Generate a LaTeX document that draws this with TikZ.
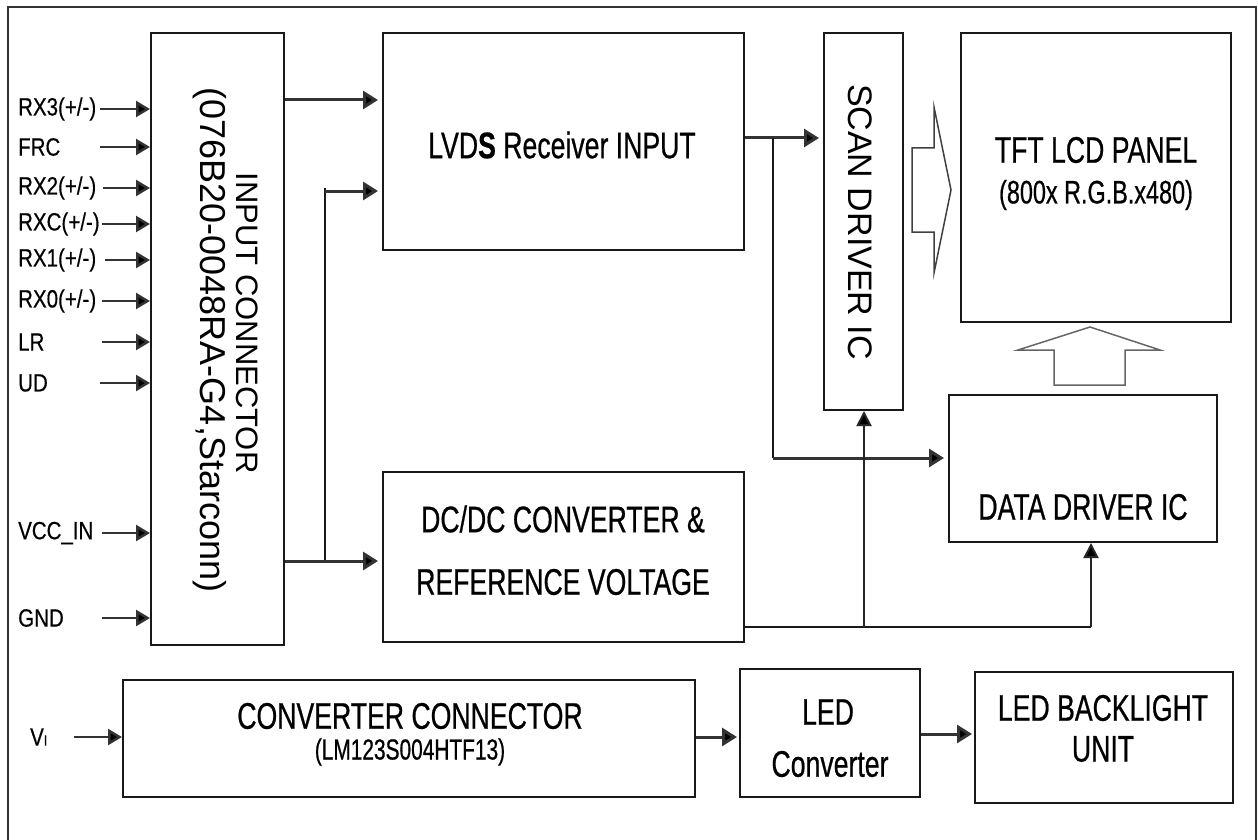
\documentclass[tikz,border=0pt]{standalone}
\usepackage{fontspec}
\setmainfont{Liberation Sans}
\newfontfamily\nf{Liberation Sans}[FakeStretch=0.72,FakeBold=0.6]
\newfontfamily\lf{Liberation Sans}[FakeStretch=0.82,FakeBold=0.4]
\usetikzlibrary{arrows.meta}
\begin{document}
\begin{tikzpicture}[x=1pt,y=-1pt,
  box/.style={draw=black!90,line width=2pt,inner sep=0pt},
  arr/.style={line width=3pt,draw=black!80,-{Triangle[length=15pt,width=18pt,fill=black]}},
  arrs/.style={line width=2.5pt,draw=black!80,-{Triangle[length=14pt,width=16pt,fill=black]}},
  arrt/.style={line width=2pt,draw=black!85,-{Triangle[length=15pt,width=15pt,fill=black]}},
  wire/.style={line width=2pt,draw=black!90},
  lab/.style={anchor=west,inner sep=0pt,font=\lf\fontsize{25}{28}\selectfont},
  big/.style={inner sep=0pt,font=\nf\fontsize{37}{44}\selectfont},
  mid/.style={inner sep=0pt,font=\nf\fontsize{32.5}{38}\selectfont},
  sml/.style={inner sep=0pt,font=\nf\fontsize{29}{34}\selectfont},
  hollow/.style={line width=1.5pt,draw=black!75,line join=miter}]
\useasboundingbox (0,0) rectangle (1258,840);
% outer frame
\draw[line width=2.5pt,black!80] (8,840) -- (8,7) -- (1256,7) -- (1256,840);

% boxes
\node[box,minimum width=133pt,minimum height=612pt] (ic) at (217.5,339) {};
\node[box,minimum width=361pt,minimum height=217pt] (lvds) at (563.5,141.5) {};
\node[box,minimum width=79pt,minimum height=377pt] (scan) at (863.5,221.5) {};
\node[box,minimum width=270pt,minimum height=289pt] (tft) at (1096,177.5) {};
\node[box,minimum width=268pt,minimum height=147pt] (dd) at (1083,468.5) {};
\node[box,minimum width=361pt,minimum height=170pt] (dcdc) at (563.5,557) {};
\node[box,minimum width=572pt,minimum height=117pt] (cc) at (409,738.5) {};
\node[box,minimum width=180pt,minimum height=128pt] (ledc) at (830,733) {};
\node[box,minimum width=258pt,minimum height=131pt] (bl) at (1104,737.5) {};

% texts
\node[inner sep=0pt,rotate=-90,font=\fontsize{31}{38}\selectfont] (icT1) at (247,323) {INPUT CONNECTOR};
\node[inner sep=0pt,rotate=-90,font=\fontsize{36}{42}\selectfont] (icT2) at (210,340) {(076B20-0048RA-G4,Starconn)};
\node[inner sep=0pt,rotate=-90,font=\fontsize{34}{40}\selectfont] (scanT) at (860,222) {SCAN DRIVER IC};
\node[big] (lvdsT) at (562,145) {LVD\textbf{S} Receiver INPUT};
\node[big] (tftT1) at (1096,150) {TFT LCD PANEL};
\node[mid] (tftT2) at (1096,195) {(800x R.G.B.x480)};
\node[big] (dcT1) at (563,519) {DC/DC CONVERTER \&};
\node[big] (dcT2) at (563,582) {REFERENCE VOLTAGE};
\node[big] (ddT) at (1083,507) {DATA DRIVER IC};
\node[big] (ccT1) at (410,716) {CONVERTER CONNECTOR};
\node[sml] (ccT2) at (410,752) {(LM123S004HTF13)};
\node[big] (ledcT1) at (828,712) {LED};
\node[big] (ledcT2) at (830,764) {Converter};
\node[big] (blT1) at (1103,708) {LED BACKLIGHT};
\node[big] (blT2) at (1103,749) {UNIT};

% input labels and arrows
\node[lab] (rx3) at (18,109) {RX3(+/-)};
\node[lab] (frc) at (18,147) {FRC};
\node[lab] (rx2) at (18,188) {RX2(+/-)};
\node[lab] (rxc) at (18,224) {RXC(+/-)};
\node[lab] (rx1) at (18,260) {RX1(+/-)};
\node[lab] (rx0) at (18,301) {RX0(+/-)};
\node[lab] (lr) at (18,342) {LR};
\node[lab] (ud) at (18,383) {UD};
\node[lab] (vcc) at (18,533) {VCC\_IN};
\node[lab] (gnd) at (18,618) {GND};
\node[lab] (vi) at (30,737) {V{\fontsize{15}{18}\selectfont I}};
\coordinate (s1) at (100,109);
\coordinate (s2) at (100,147);
\coordinate (s3) at (103,188);
\coordinate (s4) at (102,224);
\coordinate (s5) at (105,260);
\coordinate (s6) at (102,301);
\coordinate (s7) at (102,342);
\coordinate (s8) at (100,383);
\coordinate (s9) at (102,533);
\coordinate (s10) at (102,618);
\coordinate (s11) at (74,737);
\foreach \c in {s1,s2,s3,s4,s5,s6,s7,s8,s9,s10}
  \draw[arrs] (\c) -- (\c -| ic.west);
\draw[arrs] (s11) -- (s11 -| cc.west);

% connector -> LVDS / DC-DC
\draw[arr,shorten >=4pt] (ic.east |- 0,100) -- (lvds.west |- 0,100);
\coordinate (fork) at (325,561);
\draw[wire] (fork) -- (fork |- 0,188);
\draw[arr,shorten >=4pt] (fork |- 0,191) -- (lvds.west |- 0,191);
\draw[arr,shorten >=4pt] (ic.east |- 0,561) -- (dcdc.west |- 0,561);

% LVDS -> scan driver, data driver
\coordinate (tap) at (773,138);
\draw[arr,shorten >=4pt] (lvds.east |- tap) -- (scan.west |- tap);
\draw[wire] (tap) -- (773,458);
\draw[arr,shorten >=4pt] (773,458) -- (dd.west |- 0,458);

% DC/DC bus
\coordinate (bus) at (1091,627);
\draw[wire] (dcdc.east |- bus) -- (bus);
\draw[arrt] (bus) -- (bus |- dd.south);
\draw[arrt] (864,627) -- (864,627 |- scan.south);

% hollow arrows
\draw[hollow] (912,148) -- (934,148) -- (934,107) -- (951,190) -- (934,273) -- (934,232) -- (912,232) -- cycle;
\draw[hollow,draw=black!60] (1054,385) -- (1054,350) -- (1018,350) -- (1090,327) -- (1160,350) -- (1125,350) -- (1125,385) -- cycle;

% bottom row
\draw[arr,shorten >=2pt] (cc.east |- 0,737) -- (ledc.west |- 0,737);
\draw[arr,shorten >=2pt] (ledc.east |- 0,734) -- (bl.west |- 0,734);
\end{tikzpicture}
\end{document}
